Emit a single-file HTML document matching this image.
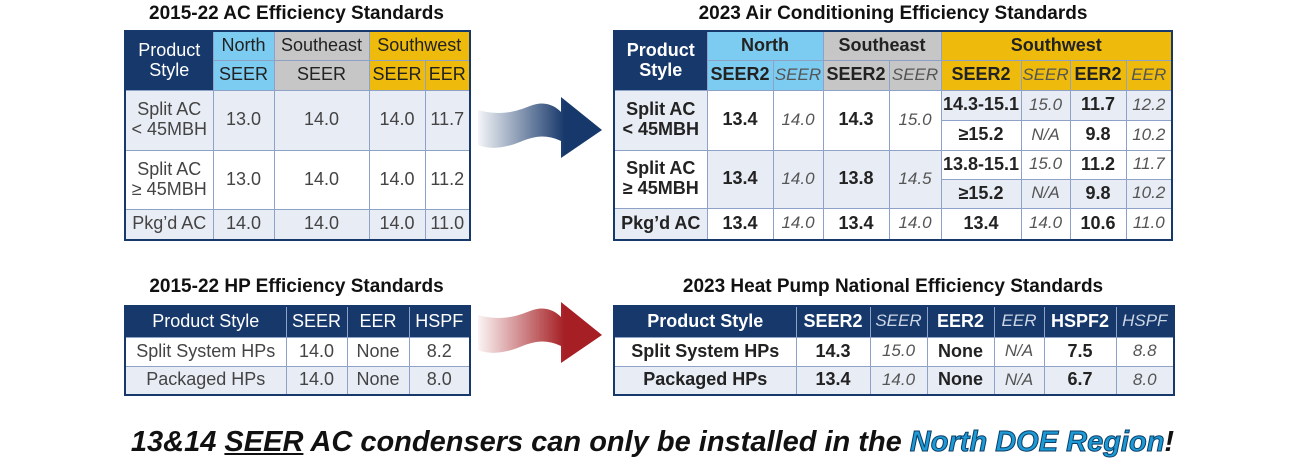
<!DOCTYPE html>
<html><head><meta charset="utf-8"><style>
body{margin:0;width:1297px;height:473px;background:#fff;position:relative;overflow:hidden;font-family:"Liberation Sans",sans-serif;color:#222}
.t{position:absolute;border-collapse:collapse;table-layout:fixed;border:2px solid #17386b}
.t td{border:1px solid #8da2c6;text-align:center;vertical-align:middle;padding:0;font-size:18px;line-height:1.1;overflow:hidden;white-space:nowrap}
.nv{background:#17386b;color:#fff}
.lb{background:#7ccbf0}.gr{background:#c6c6c6}.gd{background:#eebb0c}
.lt{background:#e8ecf5}.wh{background:#fff}
.i{font-style:italic;color:#555;font-size:17px!important}
.b{font-weight:bold}
.title{position:absolute;font-weight:bold;font-size:19px;text-align:center;color:#111}
.c td{color:#444}
</style></head><body>
<div class="title" style="left:124px;top:3px;width:345px">2015-22 AC Efficiency Standards</div>
<div class="title" style="left:613px;top:3px;width:560px">2023 Air Conditioning Efficiency Standards</div>
<div class="title" style="left:124px;top:276px;width:345px">2015-22 HP Efficiency Standards</div>
<div class="title" style="left:613px;top:276px;width:560px">2023 Heat Pump National Efficiency Standards</div>

<table class="t c" style="left:124px;top:30px;width:345px">
<colgroup><col style="width:88px"><col style="width:61px"><col style="width:95px"><col style="width:56px"><col style="width:45px"></colgroup>
<tr style="height:29px"><td class="nv" rowspan="2" style="color:#fff">Product<br>Style</td><td class="lb" style="color:#222">North</td><td class="gr" style="color:#222">Southeast</td><td class="gd" colspan="2" style="color:#222">Southwest</td></tr>
<tr style="height:30px"><td class="lb" style="color:#222">SEER</td><td class="gr" style="color:#222">SEER</td><td class="gd" style="color:#222">SEER</td><td class="gd" style="color:#222">EER</td></tr>
<tr style="height:60px" class="lt"><td>Split AC<br>&lt; 45MBH</td><td>13.0</td><td>14.0</td><td>14.0</td><td>11.7</td></tr>
<tr style="height:59px" class="wh"><td>Split AC<br>≥ 45MBH</td><td>13.0</td><td>14.0</td><td>14.0</td><td>11.2</td></tr>
<tr style="height:31px" class="lt"><td>Pkg’d AC</td><td>14.0</td><td>14.0</td><td>14.0</td><td>11.0</td></tr>
</table>

<table class="t" style="left:613px;top:30px;width:560px">
<colgroup><col style="width:93px"><col style="width:66px"><col style="width:50px"><col style="width:66px"><col style="width:52px"><col style="width:80px"><col style="width:49px"><col style="width:56px"><col style="width:46px"></colgroup>
<tr style="height:29px"><td class="nv b" rowspan="2">Product<br>Style</td><td class="lb b" colspan="2">North</td><td class="gr b" colspan="2">Southeast</td><td class="gd b" colspan="4">Southwest</td></tr>
<tr style="height:30px"><td class="lb b">SEER2</td><td class="lb i">SEER</td><td class="gr b">SEER2</td><td class="gr i">SEER</td><td class="gd b">SEER2</td><td class="gd i">SEER</td><td class="gd b">EER2</td><td class="gd i">EER</td></tr>
<tr style="height:30px"><td class="lt b" rowspan="2">Split AC<br>&lt; 45MBH</td><td class="wh b" rowspan="2">13.4</td><td class="wh i" rowspan="2">14.0</td><td class="wh b" rowspan="2">14.3</td><td class="wh i" rowspan="2">15.0</td><td class="lt b">14.3-15.1</td><td class="lt i">15.0</td><td class="lt b">11.7</td><td class="lt i">12.2</td></tr>
<tr style="height:30px" class="wh"><td class="b">≥15.2</td><td class="i">N/A</td><td class="b">9.8</td><td class="i">10.2</td></tr>
<tr style="height:29px"><td class="wh b" rowspan="2">Split AC<br>≥ 45MBH</td><td class="lt b" rowspan="2">13.4</td><td class="lt i" rowspan="2">14.0</td><td class="lt b" rowspan="2">13.8</td><td class="lt i" rowspan="2">14.5</td><td class="wh b">13.8-15.1</td><td class="wh i">15.0</td><td class="wh b">11.2</td><td class="wh i">11.7</td></tr>
<tr style="height:29px" class="lt"><td class="b">≥15.2</td><td class="i">N/A</td><td class="b">9.8</td><td class="i">10.2</td></tr>
<tr style="height:32px" class="wh"><td class="lt b">Pkg’d AC</td><td class="b">13.4</td><td class="i">14.0</td><td class="b">13.4</td><td class="i">14.0</td><td class="b">13.4</td><td class="i">14.0</td><td class="b">10.6</td><td class="i">11.0</td></tr>
</table>

<table class="t c" style="left:124px;top:305px;width:345px">
<colgroup><col style="width:161px"><col style="width:61px"><col style="width:62px"><col style="width:61px"></colgroup>
<tr style="height:31px" class="nv"><td style="color:#fff">Product Style</td><td style="color:#fff">SEER</td><td style="color:#fff">EER</td><td style="color:#fff">HSPF</td></tr>
<tr style="height:29px" class="wh"><td>Split System HPs</td><td>14.0</td><td>None</td><td>8.2</td></tr>
<tr style="height:29px" class="lt"><td>Packaged HPs</td><td>14.0</td><td>None</td><td>8.0</td></tr>
</table>

<table class="t" style="left:613px;top:305px;width:560px">
<colgroup><col style="width:182px"><col style="width:74px"><col style="width:57px"><col style="width:67px"><col style="width:50px"><col style="width:72px"><col style="width:58px"></colgroup>
<tr style="height:31px" class="nv"><td class="b">Product Style</td><td class="b">SEER2</td><td class="i" style="color:#cdd6e6">SEER</td><td class="b">EER2</td><td class="i" style="color:#cdd6e6">EER</td><td class="b">HSPF2</td><td class="i" style="color:#cdd6e6">HSPF</td></tr>
<tr style="height:29px" class="wh"><td class="b">Split System HPs</td><td class="b">14.3</td><td class="i">15.0</td><td class="b">None</td><td class="i">N/A</td><td class="b">7.5</td><td class="i">8.8</td></tr>
<tr style="height:29px" class="lt"><td class="b">Packaged HPs</td><td class="b">13.4</td><td class="i">14.0</td><td class="b">None</td><td class="i">N/A</td><td class="b">6.7</td><td class="i">8.0</td></tr>
</table>

<svg style="position:absolute;left:0;top:0" width="1297" height="473">
<defs>
<linearGradient id="gb" x1="478" x2="602" y1="0" y2="0" gradientUnits="userSpaceOnUse"><stop offset="0" stop-color="#17386b" stop-opacity="0.05"/><stop offset="0.7" stop-color="#17386b"/></linearGradient>
<linearGradient id="gr" x1="478" x2="602" y1="0" y2="0" gradientUnits="userSpaceOnUse"><stop offset="0" stop-color="#a51f24" stop-opacity="0.05"/><stop offset="0.7" stop-color="#a51f24"/></linearGradient>
</defs>
<path d="M478,110 C500,116 515,112 530,106 C545,100 555,106 561,112 L561,97 L602,130 L561,158 L561,141 C545,134 535,136 520,142 C505,148 490,150 478,145 Z" fill="url(#gb)"/>
<path transform="translate(0,205)" d="M478,110 C500,116 515,112 530,106 C545,100 555,106 561,112 L561,97 L602,130 L561,158 L561,141 C545,134 535,136 520,142 C505,148 490,150 478,145 Z" fill="url(#gr)"/>
</svg>

<div style="position:absolute;left:100px;top:426px;width:1105px;text-align:center;font-weight:bold;font-style:italic;font-size:29px;color:#111;white-space:nowrap">13&amp;14 <u>SEER</u> AC condensers can only be installed in the <span style="color:#1d9ad6;-webkit-text-stroke:1px #0b3d66">North DOE Region</span>!</div>
</body></html>
